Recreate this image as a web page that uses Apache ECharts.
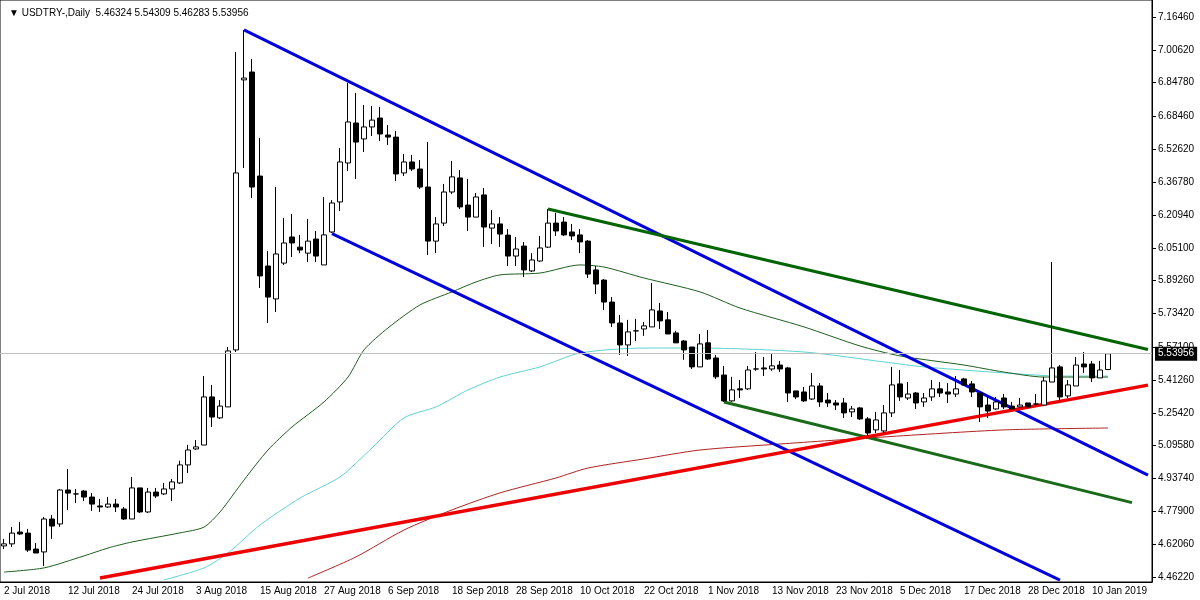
<!DOCTYPE html>
<html><head><meta charset="utf-8">
<script src="https://cdn.jsdelivr.net/npm/echarts@6/dist/echarts.min.js"></script>
<style>html,body{margin:0;padding:0;background:#fff}#c{width:1200px;height:600px}</style>
</head><body><div id="c"></div>
<script>
// Trading days (weekdays, skipping 25 Dec and 1 Jan), 2 Jul 2018 .. 21 Jan 2019
const MONTHS = ['Jan','Feb','Mar','Apr','May','Jun','Jul','Aug','Sep','Oct','Nov','Dec'];
const categories = [];
(function(){
  const d = new Date(Date.UTC(2018,6,2));
  while (categories.length < 144) {
    const wd = d.getUTCDay();
    const key = d.getUTCMonth()+'-'+d.getUTCDate();
    if (wd !== 0 && wd !== 6 && key !== '11-25' && key !== '0-1') {
      categories.push(d.getUTCDate()+' '+MONTHS[d.getUTCMonth()]+' '+d.getUTCFullYear());
    }
    d.setUTCDate(d.getUTCDate()+1);
  }
})();

// OHLC: [open, close, low, high]
const ohlc = [
[4.612,4.622,4.597,4.646],[4.622,4.674,4.607,4.704],[4.679,4.670,4.665,4.728],[4.674,4.592,4.583,4.694],
[4.597,4.578,4.578,4.626],[4.583,4.742,4.515,4.752],[4.742,4.708,4.646,4.761],[4.718,4.882,4.704,4.887],
[4.882,4.867,4.785,4.983],[4.863,4.863,4.819,4.887],[4.877,4.848,4.829,4.882],[4.848,4.814,4.781,4.867],
[4.805,4.800,4.776,4.839],[4.800,4.814,4.795,4.848],[4.814,4.800,4.776,4.839],[4.790,4.742,4.737,4.800],
[4.742,4.892,4.742,4.945],[4.892,4.776,4.771,4.892],[4.776,4.872,4.771,4.892],[4.872,4.853,4.843,4.892],
[4.863,4.887,4.858,4.916],[4.887,4.921,4.829,4.935],[4.916,5.003,4.911,5.023],[5.003,5.075,4.964,5.100],
[5.080,5.090,5.075,5.123],[5.099,5.331,5.099,5.432],[5.331,5.234,5.186,5.389],[5.230,5.287,5.225,5.316],
[5.283,5.553,5.283,5.572],[5.558,6.412,5.548,6.996],[6.861,6.870,6.436,7.102],[6.899,6.344,6.291,6.962],
[6.397,5.915,5.857,6.581],[5.963,5.813,5.688,6.035],[5.804,6.021,5.741,6.344],[5.977,6.074,5.968,6.195],
[6.103,6.074,6.006,6.214],[6.054,6.040,6.025,6.113],[6.025,6.083,5.982,6.190],[6.093,6.011,5.982,6.132],
[5.968,6.113,5.968,6.296],[6.127,6.267,6.122,6.281],[6.272,6.465,6.228,6.532],[6.460,6.658,6.421,6.846],
[6.653,6.561,6.383,6.798],[6.576,6.634,6.513,6.740],[6.634,6.667,6.590,6.735],[6.677,6.600,6.566,6.730],
[6.595,6.585,6.547,6.643],[6.585,6.407,6.373,6.614],[6.412,6.465,6.397,6.503],[6.465,6.431,6.421,6.499],
[6.431,6.344,6.335,6.474],[6.344,6.083,6.016,6.561],[6.083,6.166,6.026,6.199],[6.170,6.320,6.156,6.359],
[6.320,6.393,6.310,6.470],[6.388,6.248,6.238,6.426],[6.257,6.199,6.132,6.383],[6.199,6.296,6.199,6.315],
[6.306,6.151,6.055,6.339],[6.146,6.166,6.069,6.233],[6.166,6.117,6.055,6.199],[6.112,6.011,5.963,6.141],
[6.011,6.045,5.963,6.103],[6.059,5.944,5.910,6.079],[5.939,5.992,5.934,6.025],[5.987,6.050,5.982,6.108],
[6.054,6.170,6.050,6.238],[6.170,6.132,6.108,6.219],[6.175,6.113,6.108,6.199],[6.127,6.108,6.088,6.166],
[6.113,6.079,6.025,6.141],[6.083,5.924,5.905,6.088],[5.944,5.876,5.828,5.963],[5.895,5.789,5.751,5.900],
[5.789,5.688,5.669,5.813],[5.688,5.582,5.534,5.727],[5.582,5.645,5.529,5.703],[5.650,5.650,5.601,5.708],
[5.659,5.674,5.626,5.693],[5.669,5.751,5.669,5.881],[5.746,5.698,5.659,5.785],[5.703,5.635,5.635,5.741],
[5.640,5.592,5.592,5.650],[5.601,5.558,5.510,5.606],[5.572,5.476,5.466,5.572],[5.476,5.587,5.476,5.635],
[5.592,5.514,5.510,5.654],[5.519,5.428,5.418,5.533],[5.437,5.312,5.307,5.481],[5.312,5.365,5.307,5.428],
[5.370,5.365,5.326,5.413],[5.370,5.461,5.365,5.481],[5.466,5.466,5.457,5.548],[5.471,5.466,5.432,5.524],
[5.466,5.481,5.457,5.538],[5.485,5.466,5.452,5.505],[5.471,5.350,5.307,5.476],[5.360,5.331,5.321,5.360],
[5.355,5.312,5.307,5.379],[5.321,5.384,5.316,5.447],[5.384,5.307,5.283,5.398],[5.316,5.302,5.283,5.350],
[5.302,5.292,5.268,5.316],[5.302,5.254,5.230,5.326],[5.259,5.273,5.234,5.287],[5.278,5.225,5.220,5.283],
[5.225,5.157,5.143,5.234],[5.172,5.220,5.157,5.259],[5.167,5.254,5.157,5.292],[5.254,5.389,5.234,5.476],
[5.394,5.331,5.312,5.461],[5.326,5.345,5.316,5.403],[5.350,5.302,5.273,5.355],[5.307,5.326,5.283,5.350],
[5.331,5.370,5.312,5.413],[5.370,5.350,5.331,5.403],[5.355,5.345,5.302,5.398],[5.345,5.370,5.331,5.432],
[5.418,5.389,5.384,5.423],[5.394,5.355,5.331,5.408],[5.350,5.283,5.210,5.350],[5.292,5.263,5.230,5.331],
[5.273,5.307,5.268,5.331],[5.326,5.283,5.273,5.345],[5.287,5.273,5.268,5.307],[5.283,5.292,5.278,5.326],
[5.302,5.283,5.278,5.302],[5.297,5.297,5.287,5.345],[5.292,5.408,5.287,5.428],[5.403,5.471,5.403,5.982],
[5.476,5.331,5.312,5.485],[5.336,5.389,5.326,5.413],[5.384,5.485,5.384,5.524],[5.490,5.476,5.447,5.548],
[5.490,5.423,5.403,5.505],[5.423,5.461,5.423,5.505],[5.46324,5.53956,5.46283,5.54309]
];
const lastClose = 5.53956;

// Moving averages: [barIndex, value]
const maGreen = [[0,4.486],[5,4.506],[10,4.564],[13,4.602],[16,4.631],[22,4.675],[25,4.703],[27,4.776],[30,4.930],[33,5.075],[36,5.186],[40,5.307],[43,5.427],[45,5.558],[48,5.664],[52,5.775],[56,5.838],[59,5.886],[62,5.920],[67,5.929],[72,5.968],[75,5.958],[80,5.905],[87,5.838],[92,5.760],[100,5.669],[107,5.577],[112,5.529],[120,5.485],[125,5.451],[130,5.427],[138,5.427]];
const maCyan = [[20,4.448],[25,4.506],[28,4.578],[32,4.713],[37,4.843],[42,4.945],[46,5.085],[50,5.230],[54,5.283],[58,5.365],[62,5.427],[67,5.476],[72,5.543],[80,5.567],[87,5.567],[100,5.548],[110,5.500],[115,5.476],[125,5.447],[132,5.432],[138,5.432]];
const maRed = [[38,4.457],[44,4.559],[50,4.689],[56,4.786],[62,4.868],[69,4.940],[73,4.988],[80,5.032],[87,5.075],[97,5.104],[110,5.138],[125,5.172],[138,5.181]];

// Trend lines: [barIndex, price]
const blueUpper = [[30,7.102],[143,4.954]];
const blueLower = [[41,6.119],[132,4.447]];
const greenUpper = [[68,6.238],[143,5.56]];
const greenLower = [[90,5.307],[141,4.821]];
const redSupport = [[12,4.457],[143,5.388]];

const yTicks = [7.1646,7.0062,6.8478,6.6846,6.5262,6.3678,6.2094,6.051,5.8926,5.7342,5.571,5.4126,5.2542,5.0958,4.9374,4.779,4.6206,4.4622];

const font = '"Liberation Sans", Arial, sans-serif';
function line(data, color, width, smooth){
  return {type:'line', data, symbol:'none', smooth: smooth?0.25:false, connectNulls:true, silent:true,
    lineStyle:{color, width}, z: 3, clip:true};
}
const chart = echarts.init(document.getElementById('c'));
chart.setOption({
  animation:false,
  backgroundColor:'#fff',
  title:{text:'▼ USDTRY-,Daily  5.46324 5.54309 5.46283 5.53956', left:4, top:3,
    textStyle:{fontSize:10, fontWeight:'normal', color:'#000', fontFamily:font}},
  grid:{left:0, right:48, top:0, bottom:18, show:true, borderColor:'#000', borderWidth:1},
  xAxis:{type:'category', data:categories, boundaryGap:true,
    axisLine:{lineStyle:{color:'#000'}},
    axisTick:{interval:7, alignWithLabel:true, length:4, lineStyle:{color:'#000'}},
    axisLabel:{interval:7, align:'left', margin:4, fontSize:10, color:'#000', fontFamily:font},
    splitLine:{show:false}},
  yAxis:{type:'value', position:'right', min:4.438, max:7.2466, scale:true,
    axisLine:{show:true, lineStyle:{color:'#000'}},
    axisTick:{show:true, length:4, customValues:yTicks, lineStyle:{color:'#000'}},
    axisLabel:{customValues:yTicks, formatter:v=>v.toFixed(5), fontSize:10, color:'#000', margin:6, fontFamily:font},
    splitLine:{show:false}},
  series:[
    line(maRed,'#b22222',1,true),
    line(maCyan,'#5fd3d3',1,true),
    line(maGreen,'#1f5f1f',1,true),
    {type:'candlestick', data:ohlc, barWidth:5, z:4,
      itemStyle:{color:'#fff', color0:'#000', borderColor:'#000', borderColor0:'#000', borderWidth:1},
      markLine:{silent:true, symbol:'none', animation:false,
        lineStyle:{color:'#c0c0c0', width:1, type:'solid'},
        label:{position:'end', formatter:lastClose.toFixed(5), backgroundColor:'#000', color:'#fff',
          fontSize:10, padding:[2,3], fontFamily:font, distance:3},
        data:[{yAxis:lastClose}]}},
    line(blueUpper,'#0000dd',3),
    line(blueLower,'#0000dd',3),
    line(greenUpper,'#006400',3),
    line(greenLower,'#1a6a1a',3),
    line(redSupport,'#ee0000',3.5)
  ]
});
</script></body></html>
